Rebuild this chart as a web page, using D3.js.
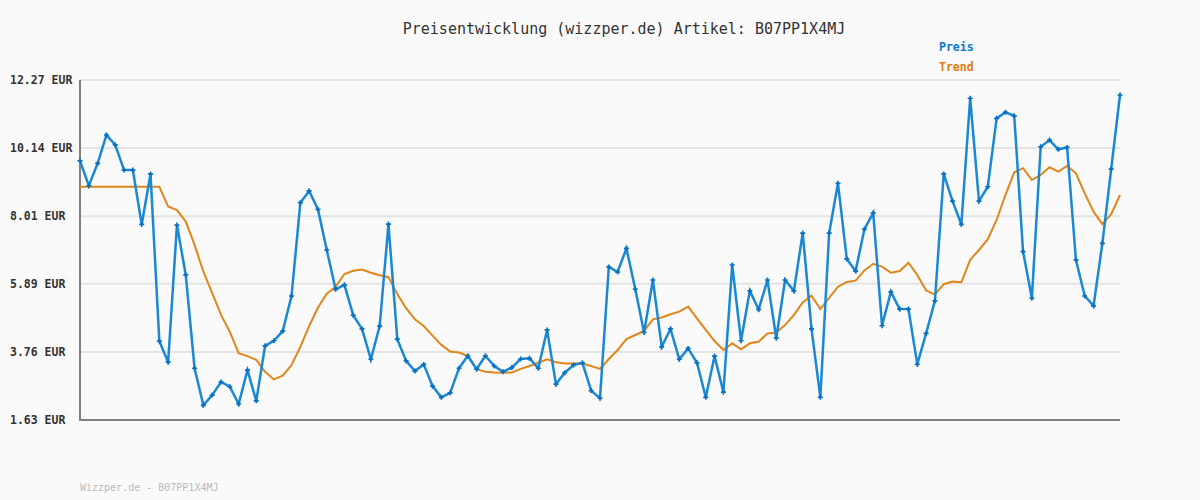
<!DOCTYPE html>
<meta charset="utf-8">
<style>
body { margin: 0; background: #fafafa; }
svg { display: block; }
.grid line { stroke: #e4e4e4; stroke-width: 2; }
.lbl { font-family: "DejaVu Sans Mono", monospace; }
</style>
<body>
<script src="https://d3js.org/d3.v7.min.js"></script>
<script>

var yTicks = [1.63, 3.76, 5.89, 8.01, 10.14, 12.27];

var preis = [9.74, 8.96, 9.66, 10.55, 10.24, 9.45, 9.45, 7.75, 9.33, 4.10,
  3.44, 7.73, 6.17, 3.25, 2.09, 2.41, 2.82, 2.67, 2.13, 3.19,
  2.23, 3.95, 4.11, 4.41, 5.51, 8.43, 8.80, 8.22, 6.95, 5.72,
  5.86, 4.91, 4.48, 3.53, 4.57, 7.76, 4.16, 3.48, 3.16, 3.37,
  2.69, 2.34, 2.48, 3.25, 3.64, 3.22, 3.64, 3.32, 3.14, 3.27,
  3.54, 3.56, 3.25, 4.45, 2.75, 3.11, 3.35, 3.42, 2.55, 2.31,
  6.42, 6.26, 7.00, 5.73, 4.37, 6.01, 3.92, 4.48, 3.53, 3.87,
  3.42, 2.34, 3.63, 2.50, 6.48, 4.11, 5.67, 5.09, 6.01, 4.19,
  6.01, 5.67, 7.48, 4.48, 2.34, 7.48, 9.04, 6.67, 6.29, 7.60,
  8.11, 4.58, 5.64, 5.10, 5.10, 3.37, 4.34, 5.36, 9.33, 8.48,
  7.75, 11.70, 8.48, 8.93, 11.07, 11.26, 11.15, 6.90, 5.44, 10.18,
  10.39, 10.10, 10.16, 6.64, 5.51, 5.20, 7.16, 9.48, 11.80];

var trend = [8.93, 8.93, 8.93, 8.93, 8.93, 8.93, 8.93, 8.93, 8.93, 8.93,
  8.31, 8.20, 7.84, 7.11, 6.27, 5.60, 4.92, 4.39, 3.72, 3.63,
  3.51, 3.14, 2.90, 3.02, 3.35, 3.92, 4.57, 5.15, 5.58, 5.80,
  6.20, 6.30, 6.34, 6.24, 6.16, 6.10, 5.57, 5.13, 4.78, 4.57,
  4.27, 3.98, 3.77, 3.74, 3.63, 3.22, 3.14, 3.12, 3.11, 3.12,
  3.23, 3.32, 3.42, 3.53, 3.44, 3.40, 3.40, 3.40, 3.32, 3.23,
  3.54, 3.82, 4.16, 4.29, 4.42, 4.78, 4.84, 4.94, 5.02, 5.18,
  4.81, 4.45, 4.10, 3.82, 4.03, 3.84, 4.03, 4.08, 4.34, 4.37,
  4.60, 4.92, 5.31, 5.52, 5.10, 5.45, 5.80, 5.95, 5.99, 6.31,
  6.52, 6.43, 6.24, 6.29, 6.55, 6.17, 5.68, 5.56, 5.88, 5.96,
  5.94, 6.64, 6.95, 7.29, 7.89, 8.67, 9.38, 9.51, 9.14, 9.30,
  9.54, 9.40, 9.58, 9.35, 8.72, 8.15, 7.76, 8.07, 8.67];

var W = 1200, H = 500;
var m = {left: 80, right: 1120, top: 80, bottom: 420};

var svg = d3.select("body").append("svg")
    .attr("width", W)
    .attr("height", H);

var x = d3.scaleLinear().domain([0, preis.length - 1]).range([m.left, m.right]);
var y = d3.scaleLinear().domain([yTicks[0], yTicks[yTicks.length - 1]]).range([m.bottom, m.top]);

// grid
svg.append("g").attr("class", "grid")
    .selectAll("line")
    .data(yTicks)
    .enter().append("line")
    .attr("x1", m.left).attr("x2", m.right)
    .attr("y1", function(d) { return y(d); })
    .attr("y2", function(d) { return y(d); });

// y labels
svg.append("g")
    .selectAll("text")
    .data(yTicks)
    .enter().append("text")
    .attr("class", "lbl")
    .attr("x", 10)
    .attr("y", function(d) { return y(d) + 4; })
    .style("font-size", "11.5px")
    .style("font-weight", "bold")
    .style("fill", "#333")
    .text(function(d) { return d.toFixed(2) + " EUR"; });

// axes
svg.append("line").attr("x1", m.left).attr("x2", m.left).attr("y1", m.top).attr("y2", m.bottom + 1)
    .style("stroke", "#808080").style("stroke-width", 2);
svg.append("line").attr("x1", m.left - 1).attr("x2", m.right).attr("y1", m.bottom).attr("y2", m.bottom)
    .style("stroke", "#808080").style("stroke-width", 2);

var line = d3.line()
    .x(function(d, i) { return x(i); })
    .y(function(d) { return y(d); });

svg.append("path")
    .datum(trend)
    .attr("d", line)
    .style("fill", "none")
    .style("stroke", "#e0861a")
    .style("stroke-width", 2);

svg.append("path")
    .datum(preis)
    .attr("d", line)
    .style("fill", "none")
    .style("stroke", "#1a88d2")
    .style("stroke-width", 2.5);

// markers
svg.append("g")
    .selectAll("path")
    .data(preis)
    .enter().append("path")
    .attr("d", d3.symbol().type(d3.symbolCross).size(14))
    .attr("transform", function(d, i) { return "translate(" + x(i) + "," + y(d) + ")"; })
    .style("fill", "#0a6fc0");

// title
svg.append("text")
    .attr("class", "lbl")
    .attr("x", 624).attr("y", 34)
    .attr("text-anchor", "middle")
    .style("font-size", "15px")
    .style("fill", "#333")
    .text("Preisentwicklung (wizzper.de) Artikel: B07PP1X4MJ");

// legend
svg.append("text").attr("class", "lbl")
    .attr("x", 939).attr("y", 51)
    .style("font-size", "11.5px").style("font-weight", "bold")
    .style("fill", "#0a77c8")
    .text("Preis");
svg.append("text").attr("class", "lbl")
    .attr("x", 939).attr("y", 71)
    .style("font-size", "11.5px").style("font-weight", "bold")
    .style("fill", "#e07c0a")
    .text("Trend");

// footer
svg.append("text").attr("class", "lbl")
    .attr("x", 80).attr("y", 491)
    .style("font-size", "10px")
    .style("fill", "#bbb")
    .text("Wizzper.de - B07PP1X4MJ");

</script>
